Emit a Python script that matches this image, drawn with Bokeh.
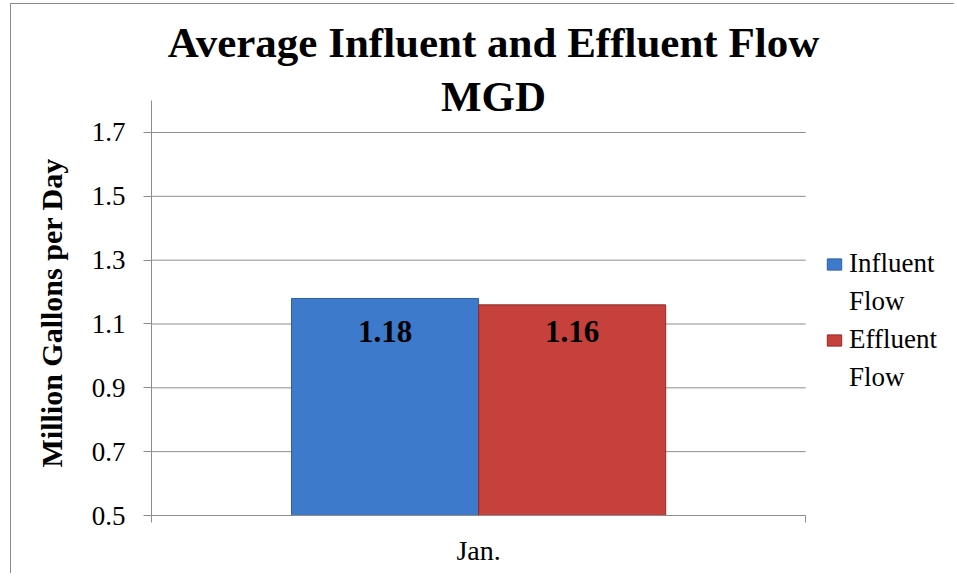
from bokeh.plotting import figure
from bokeh.models import (Range1d, FixedTicker, PrintfTickFormatter, Legend, LegendItem,
                          ColumnDataSource, Label, Title)
from bokeh.transform import dodge
from bokeh.core.properties import value
from bokeh.embed import file_html
from bokeh.resources import INLINE

# ---- data ----
months = ["Jan."]
influent = [1.18]
effluent = [1.16]
series_names = ["Influent", "Effluent"]
y_ticks = [0.5, 0.7, 0.9, 1.1, 1.3, 1.5, 1.7]
y_axis_top = 1.8
title_lines = ["Average Influent and Effluent Flow", "MGD"]
y_title = "Million Gallons per Day"

FONT = "Liberation Serif"
GRID = "#8c8c8c"
y_start, y_end = y_ticks[0], 2.101
n = len(months)
x_end = 1.229 * n

p = figure(x_range=Range1d(0, x_end), y_range=Range1d(y_start, y_end),
           width=944, height=570,
           min_border_left=139, min_border_top=0, min_border_bottom=59, min_border_right=0,
           output_backend="svg", toolbar_location=None,
           styles={"margin-left": "10px", "margin-top": "3px",
                   "border-left": "1px solid #8a8a8a", "border-top": "1px solid #8a8a8a"})
p.outline_line_color = None
p.background_fill_color = "white"
p.border_fill_color = "white"

xc = [i + 0.5 for i in range(n)]
src = ColumnDataSource(dict(xc=xc, influent=influent, effluent=effluent,
                            lab_in=["%.2f" % v for v in influent],
                            lab_ef=["%.2f" % v for v in effluent]))

# horizontal gridlines across the category area
p.segment(x0=[0] * len(y_ticks), x1=[n] * len(y_ticks), y0=y_ticks, y1=y_ticks,
          line_color=GRID, line_width=1, level="underlay")

r1 = p.vbar(x=dodge("xc", -0.143), top="influent", bottom=y_start, width=0.286,
            source=src, fill_color="#3d7acb", line_color="#2f609f", line_width=1)
r2 = p.vbar(x=dodge("xc", 0.143), top="effluent", bottom=y_start, width=0.286,
            source=src, fill_color="#c6403c", line_color="#8f2b28", line_width=1)

p.text(x=dodge("xc", -0.143), y="influent", text="lab_in", source=src,
       text_font=value(FONT), text_font_style="bold", text_font_size="31px",
       text_align="center", text_baseline="middle", y_offset=33, text_color="black")
p.text(x=dodge("xc", 0.143), y="effluent", text="lab_ef", source=src,
       text_font=value(FONT), text_font_style="bold", text_font_size="31px",
       text_align="center", text_baseline="middle", y_offset=27, text_color="black")

# axes
p.yaxis.ticker = FixedTicker(ticks=y_ticks)
p.yaxis.formatter = PrintfTickFormatter(format="%.1f")
p.yaxis.bounds = (y_start, y_axis_top)
p.yaxis.axis_line_color = GRID
p.yaxis.major_tick_line_color = GRID
p.yaxis.major_tick_out = 8
p.yaxis.major_tick_in = 0
p.yaxis.minor_tick_line_color = None
p.yaxis.major_label_text_font = FONT
p.yaxis.major_label_text_font_size = "27px"
p.yaxis.major_label_text_color = "black"
p.yaxis.major_label_standoff = 18

# y-axis title, centred on the axis span (not on the whole frame)
p.add_layout(Title(text=y_title, align="left", offset=48, standoff=42,
                   text_font=FONT, text_font_size="30px", text_font_style="bold",
                   text_color="black"), "left")

p.xaxis.ticker = FixedTicker(ticks=xc, minor_ticks=[float(i) for i in range(n + 1)])
p.xaxis.major_label_overrides = {x: m for x, m in zip(xc, months)}
p.xaxis.bounds = (0, n)
p.xaxis.axis_line_color = GRID
p.xaxis.major_tick_line_color = None
p.xaxis.major_tick_out = 0
p.xaxis.major_tick_in = 0
p.xaxis.minor_tick_line_color = GRID
p.xaxis.minor_tick_out = 7
p.xaxis.minor_tick_in = 0
p.xaxis.major_label_text_font = FONT
p.xaxis.major_label_text_font_size = "28px"
p.xaxis.major_label_text_color = "black"
p.xaxis.major_label_standoff = 12

p.xgrid.grid_line_color = None
p.ygrid.grid_line_color = None

# title
p.add_layout(Label(x=342, y=473, x_units="screen", y_units="screen", text=title_lines[0],
                   text_font=FONT, text_font_size="43px", text_font_style="bold",
                   text_align="center", text_baseline="middle", text_color="black"))
p.add_layout(Label(x=342, y=419, x_units="screen", y_units="screen", text=title_lines[1],
                   text_font=FONT, text_font_size="43px", text_font_style="bold",
                   text_align="center", text_baseline="middle", text_color="black"))

legend = Legend(items=[LegendItem(label=series_names[0], renderers=[r1]),
                       LegendItem(label="Flow", renderers=[]),
                       LegendItem(label=series_names[1], renderers=[r2]),
                       LegendItem(label="Flow", renderers=[])],
                location=(674, 122), orientation="vertical")
legend.label_text_font = FONT
legend.label_text_font_size = "27px"
legend.label_text_color = "black"
legend.glyph_width = 18
legend.glyph_height = 14
legend.label_height = 30
legend.label_standoff = 6
legend.spacing = 7
legend.padding = 0
legend.margin = 0
legend.border_line_color = None
legend.background_fill_alpha = 0
p.add_layout(legend)

open("out.html", "w").write(file_html(p, INLINE))
